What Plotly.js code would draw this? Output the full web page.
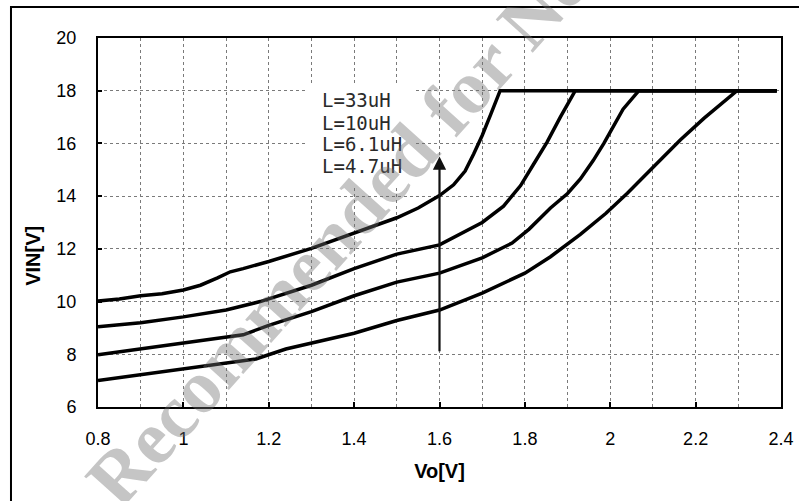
<!DOCTYPE html>
<html>
<head>
<meta charset="utf-8">
<script src="https://cdn.plot.ly/plotly-3.0.1.min.js"></script>
<style>html,body{margin:0;padding:0;background:#fff;}#chart{width:799px;height:501px;}</style>
</head>
<body>
<div id="chart"></div>
<script>
// Series data (Vo [V] vs VIN [V])
const seriesNames = ["L=33uH", "L=10uH", "L=6.1uH", "L=4.7uH"];

const vo33 = [0.8, 0.85, 0.9, 0.95, 1.0, 1.04, 1.08, 1.11, 1.14, 1.2, 1.3, 1.4, 1.5, 1.55, 1.6, 1.633, 1.66, 1.68, 1.70, 1.72, 1.742, 2.39];
const vin33 = [10.02, 10.1, 10.22, 10.3, 10.44, 10.62, 10.9, 11.13, 11.25, 11.52, 12.02, 12.6, 13.18, 13.55, 14.02, 14.43, 14.95, 15.6, 16.3, 17.1, 18.0, 18.0];

const vo10 = [0.8, 0.9, 1.0, 1.1, 1.18, 1.3, 1.4, 1.5, 1.6, 1.7, 1.75, 1.79, 1.82, 1.852, 1.883, 1.918, 2.39];
const vin10 = [9.04, 9.2, 9.42, 9.68, 10.0, 10.62, 11.25, 11.8, 12.15, 13.0, 13.62, 14.4, 15.2, 16.05, 17.0, 18.0, 18.0];

const vo61 = [0.8, 0.9, 1.0, 1.1, 1.14, 1.2, 1.3, 1.4, 1.5, 1.6, 1.7, 1.77, 1.81, 1.86, 1.9, 1.93, 1.96, 1.985, 2.03, 2.067, 2.39];
const vin61 = [7.98, 8.2, 8.43, 8.64, 8.74, 9.1, 9.62, 10.22, 10.74, 11.08, 11.66, 12.22, 12.75, 13.55, 14.1, 14.65, 15.35, 16.0, 17.3, 18.0, 18.0];

const vo47 = [0.8, 0.9, 1.0, 1.1, 1.17, 1.24, 1.3, 1.4, 1.5, 1.6, 1.7, 1.8, 1.86, 1.93, 1.99, 2.04, 2.094, 2.164, 2.22, 2.297, 2.39];
const vin47 = [7.0, 7.22, 7.47, 7.67, 7.82, 8.2, 8.42, 8.8, 9.28, 9.68, 10.32, 11.08, 11.7, 12.55, 13.35, 14.11, 14.99, 16.13, 16.96, 18.0, 18.0];

// Arrow (increasing L direction)
const arrowX = [1.6, 1.6];
const arrowY = [8.06, 15.5];

// Axis ticks
const xTickVals = [0.8, 1.0, 1.2, 1.4, 1.6, 1.8, 2.0, 2.2, 2.4];
const xTickText = ["0.8", "1", "1.2", "1.4", "1.6", "1.8", "2", "2.2", "2.4"];
const yTickVals = [6, 8, 10, 12, 14, 16, 18, 20];
const yTickText = ["6", "8", "10", "12", "14", "16", "18", "20"];

const xs = [vo33, vo10, vo61, vo47];
const ys = [vin33, vin10, vin61, vin47];

const traces = seriesNames.map((n, i) => ({
  type: "scatter",
  mode: "lines",
  name: n,
  x: xs[i],
  y: ys[i],
  line: {color: "#000000", width: 3.5},
  showlegend: false,
  hoverinfo: "skip"
}));

const legendY = [0.832, 0.771, 0.7127, 0.653];
const annotations = seriesNames.map((n, i) => ({
  xref: "paper", yref: "paper",
  x: 0.3250, y: legendY[i],
  xanchor: "left", yanchor: "middle",
  text: n, showarrow: false,
  font: {family: "DejaVu Sans Mono", size: 19, color: "#2a2a2a"}
}));

annotations.push({
  xref: "x", yref: "y", axref: "x", ayref: "y",
  x: arrowX[1], y: arrowY[1], ax: arrowX[0], ay: arrowY[0],
  text: "", showarrow: true, arrowhead: 2, arrowsize: 1.2, arrowwidth: 2.2, arrowcolor: "#111"
});

annotations.push({
  xref: "paper", yref: "paper",
  x: -0.095, y: 0.41,
  xanchor: "center", yanchor: "middle",
  text: "VIN[V]", textangle: -90, showarrow: false,
  font: {family: "Liberation Sans", size: 20, color: "#000", weight: "bold"}
});

// Watermark text
annotations.push({
  xref: "paper", yref: "paper",
  x: 0.44, y: 0.66,
  xanchor: "center", yanchor: "middle",
  text: "<b>Not Recommended for New Designs</b>", textangle: -48, showarrow: false,
  font: {family: "Liberation Serif", size: 76, color: "rgba(110,110,110,0.4)"}
});

const layout = {
  width: 799, height: 501,
  margin: {l: 98, r: 18, t: 38, b: 94},
  paper_bgcolor: "#ffffff", plot_bgcolor: "#ffffff",
  showlegend: false,
  font: {family: "Liberation Sans", size: 18, color: "#000"},
  xaxis: {
    range: [0.8, 2.4], autorange: false,
    tickmode: "array", tickvals: xTickVals, ticktext: xTickText,
    ticks: "inside", ticklen: 5, tickwidth: 2, tickcolor: "#000",
    ticklabelstandoff: 14,
    showline: true, linecolor: "#000", linewidth: 2, mirror: true,
    showgrid: true, gridcolor: "#7a7a7a", gridwidth: 1, griddash: "dot",
    minor: {dtick: 0.1, tick0: 0.8, showgrid: true, gridcolor: "#7a7a7a", gridwidth: 1, griddash: "dot", ticks: ""},
    zeroline: false,
    tickfont: {family: "Liberation Sans", size: 18, color: "#000"},
    title: {text: "Vo[V]", standoff: 16, font: {family: "Liberation Sans", size: 20, color: "#000", weight: "bold"}}
  },
  yaxis: {
    range: [6, 20], autorange: false,
    tickmode: "array", tickvals: yTickVals, ticktext: yTickText,
    ticks: "inside", ticklen: 4, tickwidth: 2, tickcolor: "#000",
    ticklabelstandoff: 16,
    showline: true, linecolor: "#000", linewidth: 2, mirror: true,
    showgrid: true, gridcolor: "#7a7a7a", gridwidth: 1, griddash: "dot",
    zeroline: false,
    tickfont: {family: "Liberation Sans", size: 18, color: "#000"}
  },
  shapes: [
    {type: "rect", xref: "paper", yref: "paper", x0: 0.3045, x1: 0.4656, y0: 0.5935, y1: 0.878,
     fillcolor: "#ffffff", line: {width: 0}, layer: "above"},
    {type: "rect", xref: "paper", yref: "paper", x0: -0.1274, x1: 1.04, y0: -0.29, y1: 1.084,
     line: {color: "#000", width: 2}, fillcolor: "rgba(0,0,0,0)", layer: "above"}
  ],
  annotations: annotations
};

Plotly.newPlot("chart", traces, layout, {staticPlot: true, displayModeBar: false});
</script>
</body>
</html>
